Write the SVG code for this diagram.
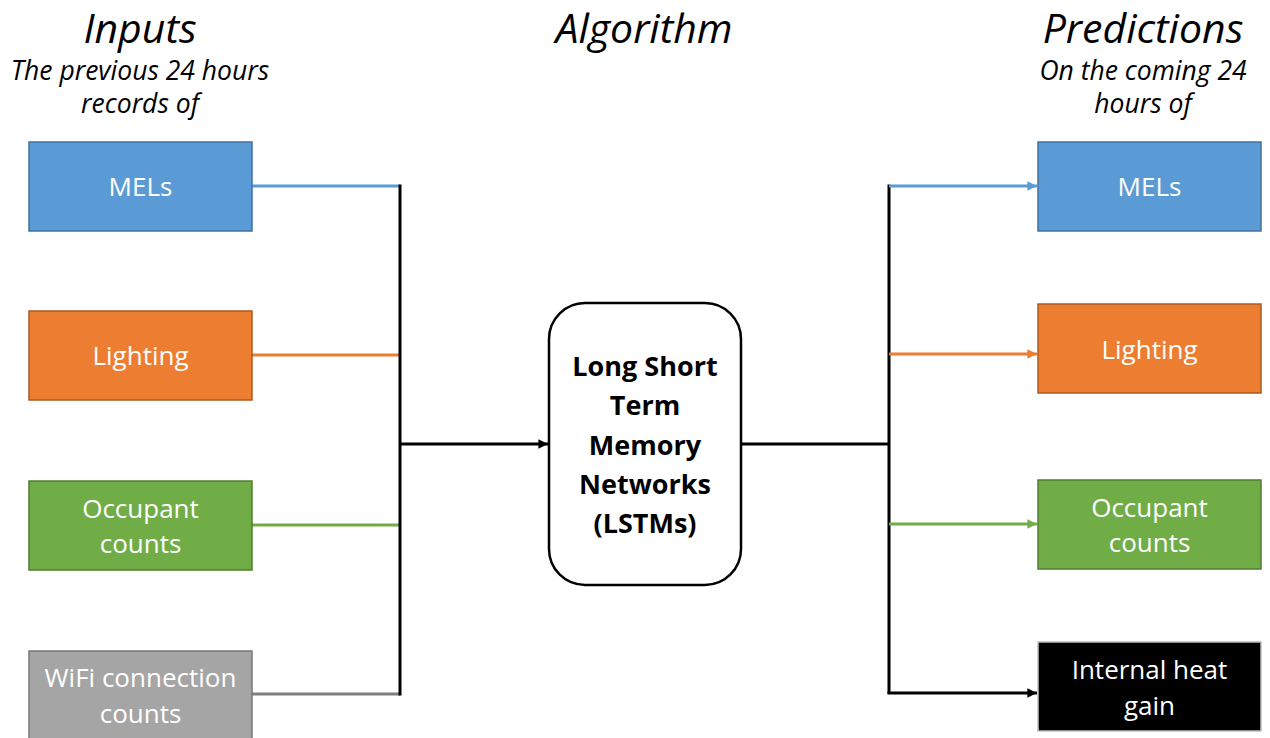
<svg xmlns="http://www.w3.org/2000/svg" width="1270" height="738" viewBox="0 0 1270 738">
<style>
.hdr{font-family:"Open Sans","Liberation Sans",sans-serif;font-style:italic;fill:#000;text-anchor:middle}
.h1{font-size:41px}
.h2{font-size:26.5px}
.lbl{font-family:"Open Sans","Liberation Sans",sans-serif;font-size:26px;fill:#fff;text-anchor:middle}
.lstm{font-family:"Open Sans","Liberation Sans",sans-serif;font-size:27px;font-weight:bold;fill:#000;text-anchor:middle}
.c{fill:none;stroke-width:3}
</style>
<defs>
<marker id="ab" viewBox="0 0 10 10" refX="10" refY="5" markerWidth="3.4" markerHeight="3.2" orient="auto" markerUnits="strokeWidth"><path d="M0,0 L10,5 L0,10 z" fill="#5B9BD5"/></marker>
<marker id="ao" viewBox="0 0 10 10" refX="10" refY="5" markerWidth="3.4" markerHeight="3.2" orient="auto" markerUnits="strokeWidth"><path d="M0,0 L10,5 L0,10 z" fill="#ED7D31"/></marker>
<marker id="ag" viewBox="0 0 10 10" refX="10" refY="5" markerWidth="3.4" markerHeight="3.2" orient="auto" markerUnits="strokeWidth"><path d="M0,0 L10,5 L0,10 z" fill="#70AD47"/></marker>
<marker id="ak" viewBox="0 0 10 10" refX="10" refY="5" markerWidth="3.4" markerHeight="3.2" orient="auto" markerUnits="strokeWidth"><path d="M0,0 L10,5 L0,10 z" fill="#000"/></marker>
</defs>
<rect width="1270" height="738" fill="#fff"/>
<g id="headers">
<text class="hdr h1" x="140" y="42.5">Inputs</text>
<text class="hdr h2" x="140" y="80">The previous 24 hours</text>
<text class="hdr h2" x="140" y="113">records of</text>
<text class="hdr h1" x="644" y="43">Algorithm</text>
<text class="hdr h1" x="1143" y="42.5">Predictions</text>
<text class="hdr h2" x="1143" y="80">On the coming 24</text>
<text class="hdr h2" x="1143" y="113">hours of</text>
</g>
<g id="connectors">
<path class="c" stroke="#5B9BD5" d="M252,186 H400"/>
<path class="c" stroke="#ED7D31" d="M252,355 H400"/>
<path class="c" stroke="#70AD47" d="M252,525 H400"/>
<path class="c" stroke="#7F7F7F" d="M252,694 H400"/>
<path class="c" stroke="#000" d="M400,184.5 V695.5"/>
<path class="c" stroke="#000" d="M400,444 H548" marker-end="url(#ak)"/>
<path class="c" stroke="#000" d="M741,444 H889"/>
<path class="c" stroke="#000" d="M889,184.5 V694"/>
<path class="c" stroke="#5B9BD5" d="M889,186 H1037" marker-end="url(#ab)"/>
<path class="c" stroke="#ED7D31" d="M889,354 H1037" marker-end="url(#ao)"/>
<path class="c" stroke="#70AD47" d="M889,524 H1037" marker-end="url(#ag)"/>
<path class="c" stroke="#000" d="M887.5,693 H1037" marker-end="url(#ak)"/>
</g>
<g id="in-mels"><rect x="29" y="142" width="223" height="89" fill="#5B9BD5" stroke="#41719C" stroke-width="1.5"/><text class="lbl" x="140.5" y="196">MELs</text></g>
<g id="in-lighting"><rect x="29" y="311" width="223" height="89" fill="#ED7D31" stroke="#AE5A21" stroke-width="1.5"/><text class="lbl" x="140.5" y="365">Lighting</text></g>
<g id="in-occupant"><rect x="29" y="481" width="223" height="89" fill="#70AD47" stroke="#507E32" stroke-width="1.5"/><text class="lbl" x="140.5" y="518">Occupant</text><text class="lbl" x="140.5" y="553">counts</text></g>
<g id="in-wifi"><rect x="29" y="651" width="223" height="89" fill="#A5A5A5" stroke="#787878" stroke-width="1.5"/><text class="lbl" x="140.5" y="687">WiFi connection</text><text class="lbl" x="140.5" y="723">counts</text></g>
<g id="lstm"><rect x="549" y="303" width="192" height="282" rx="36" ry="36" fill="#fff" stroke="#000" stroke-width="2.5"/>
<text class="lstm" x="645" y="376">Long Short</text>
<text class="lstm" x="645" y="415">Term</text>
<text class="lstm" x="645" y="455">Memory</text>
<text class="lstm" x="645" y="494">Networks</text>
<text class="lstm" x="645" y="533">(LSTMs)</text></g>
<g id="out-mels"><rect x="1038" y="142" width="223" height="89" fill="#5B9BD5" stroke="#41719C" stroke-width="1.5"/><text class="lbl" x="1149.5" y="196">MELs</text></g>
<g id="out-lighting"><rect x="1038" y="304" width="223" height="89" fill="#ED7D31" stroke="#AE5A21" stroke-width="1.5"/><text class="lbl" x="1149.5" y="359">Lighting</text></g>
<g id="out-occupant"><rect x="1038" y="480" width="223" height="89" fill="#70AD47" stroke="#507E32" stroke-width="1.5"/><text class="lbl" x="1149.5" y="517">Occupant</text><text class="lbl" x="1149.5" y="552">counts</text></g>
<g id="out-heat"><rect x="1038" y="642" width="223" height="89" fill="#000" stroke="#BFBFBF" stroke-width="1.5"/><text class="lbl" x="1149.5" y="679">Internal heat</text><text class="lbl" x="1149.5" y="715">gain</text></g>
</svg>
